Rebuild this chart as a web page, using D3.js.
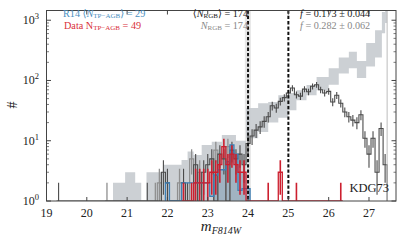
<!DOCTYPE html>
<html>
<head>
<meta charset="utf-8">
<script src="https://cdn.jsdelivr.net/npm/d3@7/dist/d3.min.js"></script>
<style>
  body { margin: 0; background: #fff; }
</style>
</head>
<body>
<svg id="chart" width="407" height="244" font-family="'Liberation Serif', 'Times New Roman', 'DejaVu Serif', serif"></svg>
<script>
// ---- data ----
const xTicks = [19, 20, 21, 22, 23, 24, 25, 26, 27];
const yTicks = [1, 10, 100, 1000];
const xDomain = [19, 27.67];
const yDomain = [1, 1450];
const binWidth = 0.1;

// model envelope (grey band), variable bins
const bandEdges = [20.65, 20.95, 21.2, 21.35, 21.48, 21.9, 22.35, 22.5, 22.65, 22.85, 23.1, 23.35, 23.7, 23.95,
                   24.25, 24.5, 24.75, 25.0, 25.2, 25.45, 25.7, 26.0, 26.25, 26.5, 26.7, 26.93, 27.15, 27.32, 27.4, 27.45];
const bandHigh = [2, 3, 2, 0, 3, 4, 4.8, 6.6, 5.8, 8.5, 9.6, 12.4, 10, 35, 42, 44, 57, 62, 69, 84,
                  114, 160, 240, 300, 210, 420, 680, 1370, 3000];
const bandLow  = [0, 0, 0, 0, 0, 0, 0, 0, 0, 0, 0, 0, 0, 11, 14, 20, 24, 32, 47, 57,
                  69, 85, 130, 160, 110, 170, 240, 610, 900];

// all stars (dark histogram)
const darkCenters = [19.3, 21.5, 21.9, 22.0, 22.4, 22.5, 22.7, 22.9, 23.0, 23.1, 23.3, 23.4, 23.6, 23.7, 23.8, 23.9,
                     24.0, 24.1, 24.2, 24.3, 24.4, 24.5, 24.6, 24.7, 24.8, 24.9, 25.0, 25.1, 25.2, 25.3, 25.4, 25.5,
                     25.6, 25.7, 25.8, 25.9, 26.0, 26.1, 26.2, 26.3, 26.4, 26.5, 26.6, 26.7, 26.8, 26.9, 27.0, 27.1,
                     27.2, 27.3, 27.4];
const darkCounts  = [1, 1, 3, 2, 2, 1, 4, 3, 4, 5, 6, 5, 7, 5, 6, 4,
                     9, 12, 15, 17, 21, 25, 38, 35, 45, 52, 62, 75, 58, 55, 72, 65,
                     80, 85, 70, 62, 66, 44, 57, 42, 30, 25, 22, 20, 27, 11, 6, 11,
                     3, 16, 4];

// second (grey) realisation
const greyCenters = [20.5, 21.7, 21.8, 22.3, 22.6, 22.8, 23.2, 23.5];
const greyCounts  = [1, 1, 2, 2, 5, 3, 7, 8];

// R14 model TP-AGB
const r14Centers = [22.0, 22.4, 22.5, 22.6, 22.7, 22.8, 22.9, 23.0, 23.1, 23.2, 23.3, 23.4, 23.5, 23.6, 23.7, 23.8, 23.9, 24.0];
const r14Counts  = [2, 2, 2, 2, 2, 2, 2, 2, 1.2, 2.7, 3.3, 3.3, 4.5, 8.5, 6, 1.5, 1.6, 1.6];
const r14FillCenters = [23.2, 23.3, 23.4, 23.5, 23.6, 23.7, 23.8, 23.9, 24.0];
const r14FillCounts  = [2.7, 3.3, 3.3, 4.5, 8.5, 6, 3, 3, 1.6];

// data TP-AGB
const redCenters = [22.4, 22.6, 22.7, 22.8, 22.9, 23.0, 23.1, 23.2, 23.3, 23.4, 23.5, 23.6, 23.7, 23.8, 23.9,
                    24.5, 24.8, 25.2, 26.3];
const redCounts  = [1, 1, 2, 2, 2, 2, 3, 3, 4, 8, 4, 6, 4, 3, 3,
                    1, 3, 1, 1];

const trgb = [24.0, 25.0];
const trgbErr = [23.92, 24.07];
const faintLimit = 27.45;

// ---- chart ----
const svg = d3.select("#chart");
const x = d3.scaleLinear().domain(xDomain).range([46.5, 396]);
const y = d3.scaleLog().domain(yDomain).range([201, 10.5]).clamp(true);

svg.append("defs").append("clipPath").attr("id", "plot")
  .append("rect").attr("x", 46.5).attr("y", 10.5).attr("width", 349.5).attr("height", 190.5);

const g = svg.append("g").attr("clip-path", "url(#plot)");

// step helper: sparse bins -> outline points
function stepPts(centers, counts) {
  const pts = [];
  let prev = null;
  centers.forEach((c, i) => {
    const l = c - binWidth / 2, r = c + binWidth / 2;
    if (prev === null || Math.abs(l - prev) > 1e-6) {
      if (prev !== null) pts.push([prev, 0]);
      pts.push([l, 0]);
    }
    pts.push([l, counts[i]], [r, counts[i]]);
    prev = r;
  });
  pts.push([prev, 0]);
  return pts;
}
const line = d3.line().x(d => x(d[0])).y(d => y(d[1]));

// TRGB uncertainty column
g.append("rect").attr("x", x(trgbErr[0])).attr("y", 10.5)
  .attr("width", x(trgbErr[1]) - x(trgbErr[0])).attr("height", 190.5).attr("fill", "#e6e6e6");

// band
const bandPts = [];
bandHigh.forEach((h, i) => {
  bandPts.push({m: bandEdges[i], lo: bandLow[i], hi: h});
  bandPts.push({m: bandEdges[i + 1], lo: bandLow[i], hi: h});
});
g.append("path").datum(bandPts)
  .attr("d", d3.area().x(d => x(d.m)).y0(d => y(d.lo)).y1(d => y(d.hi)))
  .attr("fill", "#c7cbcf").attr("opacity", 0.9);

// R14 fill
g.append("path").datum(stepPts(r14FillCenters, r14FillCounts))
  .attr("d", d3.area().x(d => x(d[0])).y0(y(1)).y1(d => y(d[1])))
  .attr("fill", "#6c90ad").attr("opacity", 0.45);

function histo(centers, counts, color, width, errWidth) {
  g.append("path").datum(stepPts(centers, counts)).attr("d", line)
    .attr("fill", "none").attr("stroke", color).attr("stroke-width", width);
  g.selectAll(null).data(centers).join("line")
    .attr("x1", d => x(d)).attr("x2", d => x(d))
    .attr("y1", (d, i) => y(Math.max(counts[i] - Math.sqrt(counts[i]), 0)))
    .attr("y2", (d, i) => y(counts[i] + Math.sqrt(counts[i])))
    .attr("stroke", color).attr("stroke-width", errWidth);
}

histo(greyCenters, greyCounts, "#8f8f8f", 1.2, 1.3);
histo(darkCenters, darkCounts, "#4a4a4a", 1.1, 1.1);
g.append("path").datum(stepPts(r14Centers, r14Counts)).attr("d", line)
  .attr("fill", "none").attr("stroke", "#3d7fb5").attr("stroke-width", 1.3);
histo(redCenters, redCounts, "#cc1f2f", 1.3, 1.6);

// faint limit
g.append("line").attr("x1", x(faintLimit)).attr("x2", x(faintLimit))
  .attr("y1", 10.5).attr("y2", 201).attr("stroke", "#bdbdbd").attr("stroke-width", 1);

// TRGB and TRGB+1 dashed
g.selectAll(null).data(trgb).join("line")
  .attr("x1", d => x(d)).attr("x2", d => x(d)).attr("y1", 10.5).attr("y2", 201)
  .attr("stroke", "#111").attr("stroke-width", 2).attr("stroke-dasharray", "3.3,2");

// ---- axes ----
const axisColor = "#444";
svg.append("rect").attr("x", 46.5).attr("y", 10.5).attr("width", 349.5).attr("height", 190.5)
  .attr("fill", "none").attr("stroke", axisColor).attr("stroke-width", 1);

const xt = svg.append("g");
xTicks.forEach(t => {
  xt.append("line").attr("x1", x(t)).attr("x2", x(t)).attr("y1", 201).attr("y2", 197).attr("stroke", axisColor);
  xt.append("line").attr("x1", x(t)).attr("x2", x(t)).attr("y1", 10.5).attr("y2", 14.5).attr("stroke", axisColor);
  xt.append("text").attr("x", x(t)).attr("y", 216.5).attr("text-anchor", "middle")
    .attr("font-size", 12).attr("fill", "#222").text(t);
});

const yt = svg.append("g");
const minors = [];
for (let dec = 1; dec <= 1000; dec *= 10) for (let k = 2; k <= 9; k++) if (dec * k <= yDomain[1]) minors.push(dec * k);
minors.forEach(v => {
  yt.append("line").attr("x1", 46.5).attr("x2", 49).attr("y1", y(v)).attr("y2", y(v)).attr("stroke", axisColor).attr("stroke-width", 0.7);
  yt.append("line").attr("x1", 396).attr("x2", 393.5).attr("y1", y(v)).attr("y2", y(v)).attr("stroke", axisColor).attr("stroke-width", 0.7);
});
yTicks.forEach((t, i) => {
  yt.append("line").attr("x1", 46.5).attr("x2", 51).attr("y1", y(t)).attr("y2", y(t)).attr("stroke", axisColor);
  yt.append("line").attr("x1", 396).attr("x2", 391.5).attr("y1", y(t)).attr("y2", y(t)).attr("stroke", axisColor);
  const tx = yt.append("text").attr("x", 39).attr("y", y(t) + 4).attr("text-anchor", "end")
    .attr("font-size", 12).attr("fill", "#222");
  tx.append("tspan").text("10");
  tx.append("tspan").attr("dy", -5).attr("font-size", 8.5).text(i);
});

// axis labels
const xl = svg.append("text").attr("x", 221).attr("y", 231).attr("text-anchor", "middle")
  .attr("font-style", "italic").attr("fill", "#222");
xl.append("tspan").attr("font-size", 15).text("m");
xl.append("tspan").attr("font-size", 10).attr("dy", 3).text("F814W");

svg.append("text").attr("transform", "translate(17,105) rotate(-90)").attr("text-anchor", "middle")
  .attr("font-size", 14).attr("fill", "#222").text("#");

// annotations
function label(xp, yp, anchor, color, parts) {
  const t = svg.append("text").attr("x", xp).attr("y", yp).attr("text-anchor", anchor)
    .attr("font-size", 10.2).attr("fill", color);
  parts.forEach(p => {
    const s = t.append("tspan").text(p.t);
    if (p.i) s.attr("font-style", "italic");
    if (p.sub) s.attr("font-size", 7).attr("dy", 1.2);
    if (p.up) s.attr("dy", -1.2);
  });
}
label(63, 17, "start", "#4a8fc0", [{t: "R14 ⟨"}, {t: "N", i: 1}, {t: "TP−AGB", sub: 1}, {t: "⟩ = 29", up: 1}]);
label(64, 28.5, "start", "#d9303a", [{t: "Data N"}, {t: "TP−AGB", sub: 1}, {t: " = 49", up: 1}]);
label(248, 17, "end", "#222", [{t: "⟨"}, {t: "N", i: 1}, {t: "RGB", sub: 1}, {t: "⟩ = 174", up: 1}]);
label(248, 28.5, "end", "#888", [{t: "N", i: 1}, {t: "RGB", sub: 1}, {t: " = 174", up: 1}]);
label(300, 17, "start", "#222", [{t: "f", i: 1}, {t: " = 0.173 ± 0.044"}]);
label(300, 28.5, "start", "#888", [{t: "f", i: 1}, {t: " = 0.282 ± 0.062"}]);

svg.append("text").attr("x", 389).attr("y", 192).attr("text-anchor", "end")
  .attr("font-size", 12.5).attr("fill", "#222").text("KDG73");
</script>
</body>
</html>
